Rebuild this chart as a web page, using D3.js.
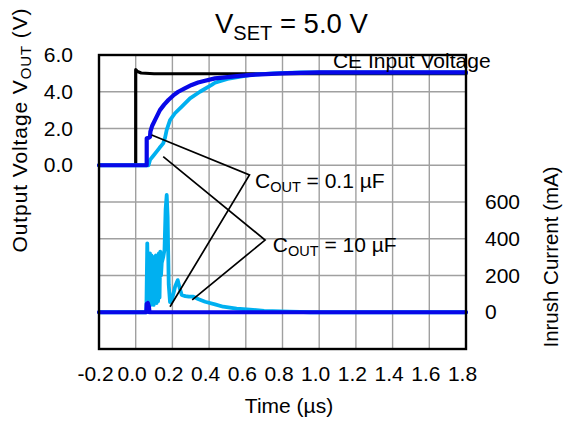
<!DOCTYPE html>
<html>
<head>
<meta charset="utf-8">
<script src="https://cdn.jsdelivr.net/npm/d3@7"></script>
<style>
  body { margin: 0; background: #fff; }
  text { font-family: "Liberation Sans", Arial, sans-serif; fill: #000; }
</style>
</head>
<body>
<script>
// ---------- data ----------
const xTicks = [-0.2, 0.0, 0.2, 0.4, 0.6, 0.8, 1.0, 1.2, 1.4, 1.6, 1.8];
const xTickLabels = ["-0.2", "0.0", "0.2", "0.4", "0.6", "0.8", "1.0", "1.2", "1.4", "1.6", "1.8"];
const vTicks = [0, 2, 4, 6];
const vTickLabels = ["0.0", "2.0", "4.0", "6.0"];
const iTicks = [0, 200, 400, 600];
const iTickLabels = ["0", "200", "400", "600"];
const vGrid = [-8, -6, -4, -2, 0, 2, 4];

// CE input voltage (V)
const ceTime = [-0.2, 0.0, 0.0, 0.01, 0.03, 0.1, 1.8];
const ceVolt = [0.0, 0.0, 5.2, 5.1, 5.02, 4.98, 4.98];

// VOUT, COUT = 0.1 uF (V)
const vout01Time = [-0.2, 0.06, 0.06, 0.072, 0.078, 0.08, 0.09, 0.105, 0.132, 0.155, 0.178, 0.205, 0.232, 0.27, 0.305, 0.34, 0.378, 0.432, 0.5, 0.568, 0.65, 0.8, 1.0, 1.8];
const vout01Volt = [0.0, 0.0, 1.47, 1.5, 1.55, 1.83, 2.15, 2.46, 3.0, 3.3, 3.55, 3.8, 4.0, 4.2, 4.37, 4.5, 4.6, 4.73, 4.8, 4.86, 4.93, 5.0, 5.05, 5.05];

// VOUT, COUT = 10 uF (V)
const vout10Time = [-0.2, 0.07, 0.078, 0.095, 0.114, 0.13, 0.15, 0.16, 0.169, 0.187, 0.214, 0.251, 0.296, 0.35, 0.414, 0.432, 0.5, 0.62, 0.75, 0.9, 1.8];
const vout10Volt = [0.0, 0.0, 0.29, 0.5, 0.74, 0.95, 1.19, 1.5, 1.92, 2.46, 2.83, 3.19, 3.64, 4.0, 4.37, 4.49, 4.7, 4.91, 5.0, 5.05, 5.05];

// Inrush current, COUT = 0.1 uF (mA)
const inr01Time = [-0.2, 0.058, 0.06, 0.066, 0.072, 0.075, 1.8];
const inr01Curr = [0, 0, 45, 50, 30, 0, 0];

// Inrush current, COUT = 10 uF (mA)
const inr10Time = [-0.2, 0.058, 0.063, 0.068, 0.072, 0.078, 0.082, 0.086, 0.09, 0.094, 0.098, 0.102, 0.106, 0.11, 0.114, 0.118, 0.122, 0.126, 0.13, 0.134, 0.138, 0.142, 0.15, 0.157, 0.163, 0.169, 0.174, 0.18, 0.187, 0.195, 0.215, 0.229, 0.24, 0.251, 0.27, 0.29, 0.314, 0.34, 0.378, 0.432, 0.477, 0.55, 0.623, 0.7, 0.84, 0.95, 1.8];
const inr10Curr = [0, 0, 375, 120, 30, 320, 40, 310, 50, 300, 40, 300, 60, 310, 50, 290, 60, 320, 80, 330, 200, 270, 300, 340, 560, 638, 520, 150, 55, 60, 140, 175, 130, 94, 88, 85, 85, 72, 57, 43, 30, 20, 14, 8, 3, 0, 0];

// annotation leader lines (time, volts on left scale)
const anno01 = [[0.087, 1.65], [0.62, -0.53], [0.187, -7.70]];
const anno10 = [[0.15, 0.47], [0.705, -4.07], [0.308, -7.33]];

// ---------- chart ----------
const W = 563, H = 424;
const svg = d3.select("body").append("svg").attr("width", W).attr("height", H);

const x = d3.scaleLinear().domain([-0.2, 1.8]).range([99, 466]);
const yV = d3.scaleLinear().domain([-10, 6]).range([349, 55]);
const yI = d3.scaleLinear().domain([-200, 1400]).range([349, 55]);

// grid
const grid = svg.append("g").attr("stroke", "#a0a0a0").attr("stroke-width", 1.4);
grid.selectAll("line.v").data(xTicks.slice(1, -1)).join("line")
  .attr("x1", d => x(d)).attr("x2", d => x(d))
  .attr("y1", yV(6)).attr("y2", yV(-10));
grid.selectAll("line.h").data(vGrid).join("line")
  .attr("x1", x(-0.2)).attr("x2", x(1.8))
  .attr("y1", d => yV(d)).attr("y2", d => yV(d));

// axes
const fs = 21;
const axL = svg.append("g").attr("transform", `translate(${x(-0.2)},0)`)
  .call(d3.axisLeft(yV).tickValues(vTicks).tickSize(0).tickPadding(26)
    .tickFormat((d, i) => vTickLabels[i]));
const axR = svg.append("g").attr("transform", `translate(${x(1.8)},0)`)
  .call(d3.axisRight(yI).tickValues(iTicks).tickSize(0).tickPadding(19)
    .tickFormat((d, i) => iTickLabels[i]));
const axB = svg.append("g").attr("transform", `translate(0,${yV(-10)})`)
  .call(d3.axisBottom(x).tickValues(xTicks).tickSize(0).tickPadding(17)
    .tickFormat((d, i) => xTickLabels[i]));
[axL, axR, axB].forEach(g => {
  g.select(".domain").remove();
  g.selectAll("text").attr("font-size", fs).attr("font-family", "Liberation Sans, Arial, sans-serif").attr("fill", "#000");
});
axB.selectAll("text").attr("dx", -4);

// series
const line = (ys) => d3.line().x(d => x(d[0])).y(d => ys(d[1]));
function draw(t, v, ys, color, w) {
  svg.append("path").datum(d3.zip(t, v))
    .attr("d", line(ys)).attr("fill", "none")
    .attr("stroke", color).attr("stroke-width", w)
    .attr("stroke-linejoin", "round").attr("stroke-linecap", "round");
}
const cDark = "#0808e8", cLight = "#00b0f0";
draw(ceTime, ceVolt, yV, "#000", 3.2);
draw(vout10Time, vout10Volt, yV, cLight, 3.8);
draw(vout01Time, vout01Volt, yV, cDark, 4.2);
draw(inr10Time, inr10Curr, yI, cLight, 3.8);
draw(inr01Time, inr01Curr, yI, cDark, 4.2);

// frame
svg.append("rect").attr("x", x(-0.2)).attr("y", yV(6))
  .attr("width", x(1.8) - x(-0.2)).attr("height", yV(-10) - yV(6))
  .attr("fill", "none").attr("stroke", "#000").attr("stroke-width", 2.4);

// annotation leaders
[anno01, anno10].forEach(a => {
  svg.append("path").datum(a).attr("d", line(yV))
    .attr("fill", "none").attr("stroke", "#000").attr("stroke-width", 1.7);
});

function subText(g, xPos, yPos, main, sub, rest, size, subSize, shift) {
  const t = g.append("text").attr("x", xPos).attr("y", yPos).attr("font-size", size);
  t.append("tspan").text(main);
  t.append("tspan").attr("font-size", subSize).attr("dy", shift).text(sub);
  t.append("tspan").attr("font-size", size).attr("dy", -shift).text(rest);
  return t;
}

// annotation labels
subText(svg, x(0.65), yV(-1.24), "C", "OUT", "\u00a0= 0.1 \u00b5F", 21, 14.5, 4);
subText(svg, x(0.747), yV(-4.72), "C", "OUT", "\u00a0= 10 \u00b5F", 21, 14.5, 4);
svg.append("text").attr("x", x(1.075)).attr("y", yV(5.29)).attr("font-size", 21).text("CE Input Voltage");

// title
subText(svg, 215, 33, "V", "SET", "\u00a0= 5.0 V", 27.5, 20, 7);

// axis titles
svg.append("text").attr("x", 289).attr("y", 413).attr("text-anchor", "middle")
  .attr("font-size", 21).text("Time (\u00b5s)");
const lt = svg.append("text").attr("transform", "translate(27,130) rotate(-90)")
  .attr("text-anchor", "middle").attr("font-size", 21).attr("letter-spacing", 0.9);
lt.append("tspan").text("Output Voltage V");
lt.append("tspan").attr("font-size", 15).attr("dy", 4).text("OUT");
lt.append("tspan").attr("font-size", 21).attr("dy", -4).text("\u00a0(V)");
svg.append("text").attr("transform", "translate(558,257) rotate(-90)")
  .attr("text-anchor", "middle").attr("font-size", 20.5).text("Inrush Current (mA)");
</script>
</body>
</html>
